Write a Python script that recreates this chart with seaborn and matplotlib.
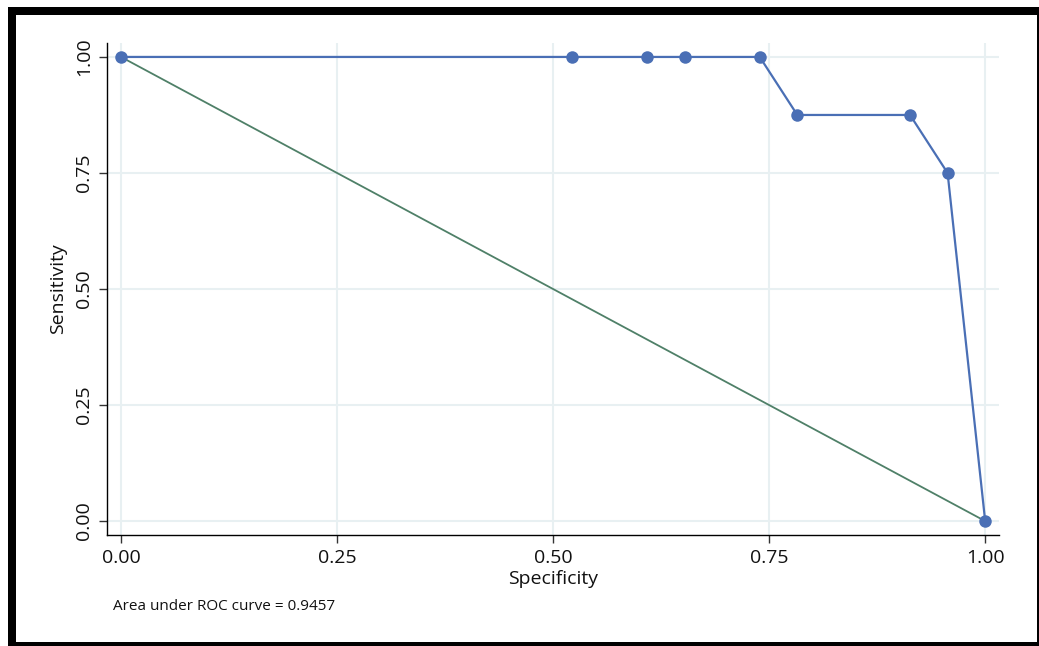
import matplotlib
matplotlib.use("Agg")
import matplotlib.pyplot as plt
import seaborn as sns
import pandas as pd
from matplotlib.patches import Rectangle

specificity = [0.0, 12/23, 14/23, 15/23, 17/23, 18/23, 21/23, 22/23, 1.0]
sensitivity = [1.0, 1.0, 1.0, 1.0, 1.0, 0.875, 0.875, 0.75, 0.0]
ref_x = [0.0, 1.0]
ref_y = [1.0, 0.0]
ticks = [0.0, 0.25, 0.5, 0.75, 1.0]
tick_labels = ["0.00", "0.25", "0.50", "0.75", "1.00"]
auc_text = "Area under ROC curve = 0.9457"

sns.set_theme(style="white")
plt.rcParams['font.family'] = ['Open Sans', 'DejaVu Sans']

W, H = 1039, 646
fig = plt.figure(figsize=(W / 100, H / 100), dpi=100)
ax = fig.add_axes([0.103, 0.1718, 0.8585, 0.7616])

df = pd.DataFrame({"x": specificity, "y": sensitivity})
dref = pd.DataFrame({"x": ref_x, "y": ref_y})

sns.lineplot(data=dref, x="x", y="y", ax=ax, color="#4f8068", linewidth=1.3, sort=False, zorder=2)
sns.lineplot(data=df, x="x", y="y", ax=ax, color="#4a6fb5", linewidth=1.6,
             marker="o", markersize=9, markeredgewidth=0, sort=False, zorder=3)

ax.set_xlim(-0.0162, 1.016)
ax.set_ylim(-0.030, 1.030)
ax.set_xticks(ticks)
ax.set_xticklabels(tick_labels)
ax.set_yticks(ticks)
ax.set_yticklabels(tick_labels, rotation=90, va="center")
ax.grid(True, color="#e8f0f2", linewidth=1.5)
ax.set_axisbelow(True)
for s in ["top", "right"]:
    ax.spines[s].set_visible(False)
for s in ["left", "bottom"]:
    ax.spines[s].set_color("black")
    ax.spines[s].set_linewidth(1.0)
ax.tick_params(axis="both", direction="out", length=6, width=1, color="#333333",
               labelsize=14, labelcolor="#111111", left=True, bottom=True, pad=4)
ax.set_xlabel("Specificity", fontsize=14, labelpad=2, color="#111111")
ax.set_ylabel("Sensitivity", fontsize=14, labelpad=6, color="#111111")

fig.text(113 / W, 1 - 607 / H, auc_text, fontsize=11, ha="left", va="center", color="#111111")


def frame_bar(x0, y0, x1, y1):
    # pixel coords (top-left origin) -> figure fraction
    fig.patches.append(Rectangle((x0 / W, 1 - y1 / H), (x1 - x0) / W, (y1 - y0) / H,
                                 transform=fig.transFigure, facecolor="black",
                                 edgecolor="none", zorder=10))


frame_bar(8, 7, 1040, 15)      # top
frame_bar(8, 7, 16, 647)       # left
frame_bar(1036.5, 7, 1040, 647)  # right
frame_bar(8, 641.5, 1040, 647)   # bottom

fig.savefig("out.png", dpi=100)
